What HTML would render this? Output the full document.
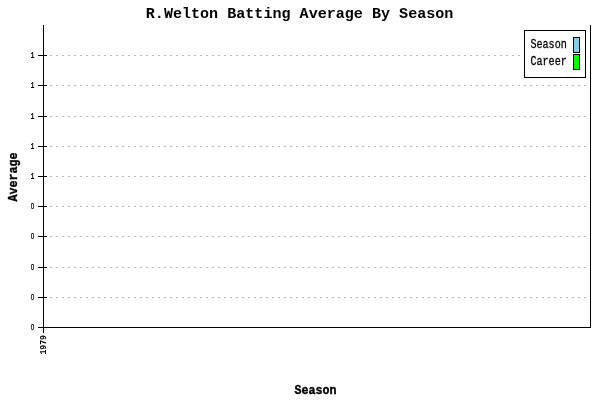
<!DOCTYPE html>
<html><head><meta charset="utf-8"><title>R.Welton Batting Average By Season</title>
<style>
html,body{margin:0;padding:0;background:#fff;}
body{width:600px;height:400px;overflow:hidden;}
svg{display:block;will-change:transform;}
text{font-family:"Liberation Mono","DejaVu Sans Mono",monospace;fill:#000;}
.b{font-weight:bold;}
.s{stroke:#000;stroke-width:0.4px;}
.t{stroke:#000;stroke-width:0.3px;}
.z{font-family:"Liberation Sans","DejaVu Sans",sans-serif;stroke:#000;stroke-width:0.25px;}
</style></head><body>
<svg width="600" height="400" viewBox="0 0 600 400">
<rect width="600" height="400" fill="#fff"/>
<g shape-rendering="crispEdges">
<line x1="44" y1="55.5" x2="590" y2="55.5" stroke="#b8b8b8" stroke-width="1" stroke-dasharray="2 4"/>
<line x1="44" y1="85.5" x2="590" y2="85.5" stroke="#b8b8b8" stroke-width="1" stroke-dasharray="2 4"/>
<line x1="44" y1="116.5" x2="590" y2="116.5" stroke="#b8b8b8" stroke-width="1" stroke-dasharray="2 4"/>
<line x1="44" y1="146.5" x2="590" y2="146.5" stroke="#b8b8b8" stroke-width="1" stroke-dasharray="2 4"/>
<line x1="44" y1="176.5" x2="590" y2="176.5" stroke="#b8b8b8" stroke-width="1" stroke-dasharray="2 4"/>
<line x1="44" y1="206.5" x2="590" y2="206.5" stroke="#b8b8b8" stroke-width="1" stroke-dasharray="2 4"/>
<line x1="44" y1="236.5" x2="590" y2="236.5" stroke="#b8b8b8" stroke-width="1" stroke-dasharray="2 4"/>
<line x1="44" y1="267.5" x2="590" y2="267.5" stroke="#b8b8b8" stroke-width="1" stroke-dasharray="2 4"/>
<line x1="44" y1="297.5" x2="590" y2="297.5" stroke="#b8b8b8" stroke-width="1" stroke-dasharray="2 4"/>
<rect x="43" y="25" width="1" height="308" fill="#000"/>
<rect x="590" y="25" width="1" height="303" fill="#000"/>
<rect x="43" y="327" width="548" height="1" fill="#000"/>
<rect x="38" y="55" width="9" height="1" fill="#000"/>
<rect x="38" y="85" width="9" height="1" fill="#000"/>
<rect x="38" y="116" width="9" height="1" fill="#000"/>
<rect x="38" y="146" width="9" height="1" fill="#000"/>
<rect x="38" y="176" width="9" height="1" fill="#000"/>
<rect x="38" y="206" width="9" height="1" fill="#000"/>
<rect x="38" y="236" width="9" height="1" fill="#000"/>
<rect x="38" y="267" width="9" height="1" fill="#000"/>
<rect x="38" y="297" width="9" height="1" fill="#000"/>
<rect x="38" y="327" width="9" height="1" fill="#000"/>
<rect x="524.5" y="30.5" width="61" height="47" fill="#fff" stroke="#000" stroke-width="1"/>
<rect x="573.5" y="37.5" width="6" height="15" fill="#87ceeb" stroke="#000" stroke-width="1"/>
<rect x="573.5" y="54.5" width="6" height="15" fill="#00ff00" stroke="#000" stroke-width="1"/>
</g>
<text class="b" x="145.8" y="18" font-size="15" textLength="307.6" lengthAdjust="spacingAndGlyphs" xml:space="preserve">R.Welton Batting Average By Season</text>
<text class="t" x="530.4" y="48" font-size="13.6" textLength="36.4" lengthAdjust="spacingAndGlyphs">Season</text>
<text class="t" x="530.4" y="65" font-size="13.6" textLength="36.4" lengthAdjust="spacingAndGlyphs">Career</text>
<text class="b s" x="294.4" y="394" font-size="13.6" textLength="42" lengthAdjust="spacingAndGlyphs">Season</text>
<text class="b s" transform="translate(17,201.6) rotate(-90)" font-size="13.6" textLength="49" lengthAdjust="spacingAndGlyphs">Average</text>
<text class="b" transform="translate(46,354.6) rotate(-90)" font-size="9" textLength="19.6" lengthAdjust="spacingAndGlyphs">1979</text>
<text class="b" x="30.5" y="58" font-size="9" textLength="4" lengthAdjust="spacingAndGlyphs">1</text>
<text class="b" x="30.5" y="88" font-size="9" textLength="4" lengthAdjust="spacingAndGlyphs">1</text>
<text class="b" x="30.5" y="119" font-size="9" textLength="4" lengthAdjust="spacingAndGlyphs">1</text>
<text class="b" x="30.5" y="149" font-size="9" textLength="4" lengthAdjust="spacingAndGlyphs">1</text>
<text class="b" x="30.5" y="179" font-size="9" textLength="4" lengthAdjust="spacingAndGlyphs">1</text>
<text class="z" x="30.8" y="209" font-size="8.3" textLength="3.5" lengthAdjust="spacingAndGlyphs">0</text>
<text class="z" x="30.8" y="239" font-size="8.3" textLength="3.5" lengthAdjust="spacingAndGlyphs">0</text>
<text class="z" x="30.8" y="270" font-size="8.3" textLength="3.5" lengthAdjust="spacingAndGlyphs">0</text>
<text class="z" x="30.8" y="300" font-size="8.3" textLength="3.5" lengthAdjust="spacingAndGlyphs">0</text>
<text class="z" x="30.8" y="330" font-size="8.3" textLength="3.5" lengthAdjust="spacingAndGlyphs">0</text>
</svg></body></html>
